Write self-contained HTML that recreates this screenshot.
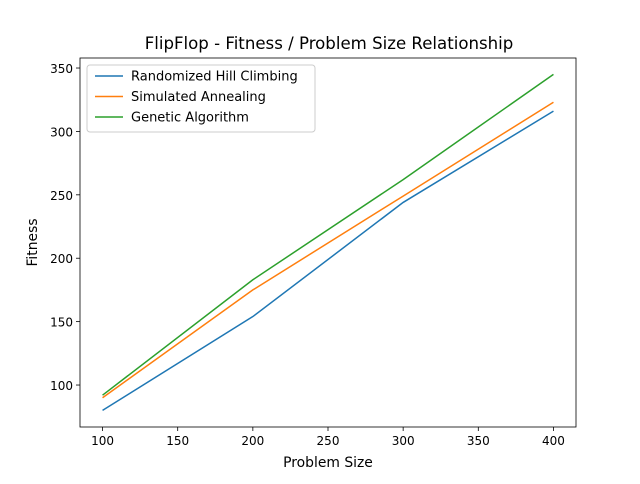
<!DOCTYPE html>
<html><head><meta charset="utf-8"><style>
body{margin:0;background:#fff;font-family:"DejaVu Sans","Liberation Sans",sans-serif;}
</style></head><body>
<svg id="chart" width="640" height="480" xmlns="http://www.w3.org/2000/svg" font-family="DejaVu Sans, Liberation Sans, sans-serif"></svg>
<script>
const categories=[100,200,300,400];
const rhcValues=[80,154,244,316];
const saValues=[90,175,249,323];
const gaValues=[92,183,262,345];
const xTicks=[100,150,200,250,300,350,400];
const yTicks=[100,150,200,250,300,350];
const seriesNames=["Randomized Hill Climbing","Simulated Annealing","Genetic Algorithm"];
const colors=["#1f77b4","#ff7f0e","#2ca02c"];
const L=80,R=576,T=58,B=427;
const xMin=85,xMax=415,yMin=66.9,yMax=357.9;
const sx=v=>L+(v-xMin)/(xMax-xMin)*(R-L);
const sy=v=>B-(v-yMin)/(yMax-yMin)*(B-T);
const svg=document.getElementById('chart');
const NS='http://www.w3.org/2000/svg';
function mk(tag,attrs,parent){const e=document.createElementNS(NS,tag);for(const k in attrs)e.setAttribute(k,attrs[k]);(parent||svg).appendChild(e);return e;}
let t=mk('text',{x:329,y:49,'text-anchor':'middle','font-size':16.6,fill:'#000'});t.textContent='FlipFlop - Fitness / Problem Size Relationship';


xTicks.forEach(v=>{const x=sx(v);
 const l=mk('line',{x1:x,x2:x,y1:B,y2:B+4,stroke:'#000','stroke-width':0.8});
 
 
 const tx=mk('text',{x:x,y:B+18,'text-anchor':'middle','font-size':12});tx.textContent=v;
 
 });
yTicks.forEach(v=>{const y=sy(v);
 const l=mk('line',{x1:L-4,x2:L,y1:y,y2:y,stroke:'#000','stroke-width':0.8});
 
 
 const tx=mk('text',{x:L-7,y:y+5,'text-anchor':'end','font-size':12});tx.textContent=v;
 
 });
t=mk('text',{x:328,y:467,'text-anchor':'middle','font-size':13.9});t.textContent='Problem Size';


t=mk('text',{x:0,y:0,'text-anchor':'middle','font-size':13.9,transform:`translate(37,${(T+B)/2}) rotate(-90)`});t.textContent='Fitness';


[rhcValues,saValues,gaValues].forEach((vals,i)=>{
 const p=mk('polyline',{points:vals.map((v,j)=>sx(categories[j])+','+sy(v)).join(' '),fill:'none',stroke:colors[i],'stroke-width':1.5});
 
 });
const fr=mk('rect',{x:L,y:T,width:R-L,height:B-T,fill:'none',stroke:'#000','stroke-width':0.8});


const lg=mk('g',{});


mk('rect',{x:87,y:65,width:228,height:67,rx:3,fill:'#fff','fill-opacity':0.8,stroke:'#ccc'},lg);
seriesNames.forEach((n,i)=>{const y=76+i*20.5;
 const l=mk('line',{x1:95,x2:123,y1:y,y2:y,stroke:colors[i],'stroke-width':1.5},lg);
 
 
 const tx=mk('text',{x:131,y:y+4.5,'font-size':13},lg);tx.textContent=n;
 
 });
</script>
</body></html>
